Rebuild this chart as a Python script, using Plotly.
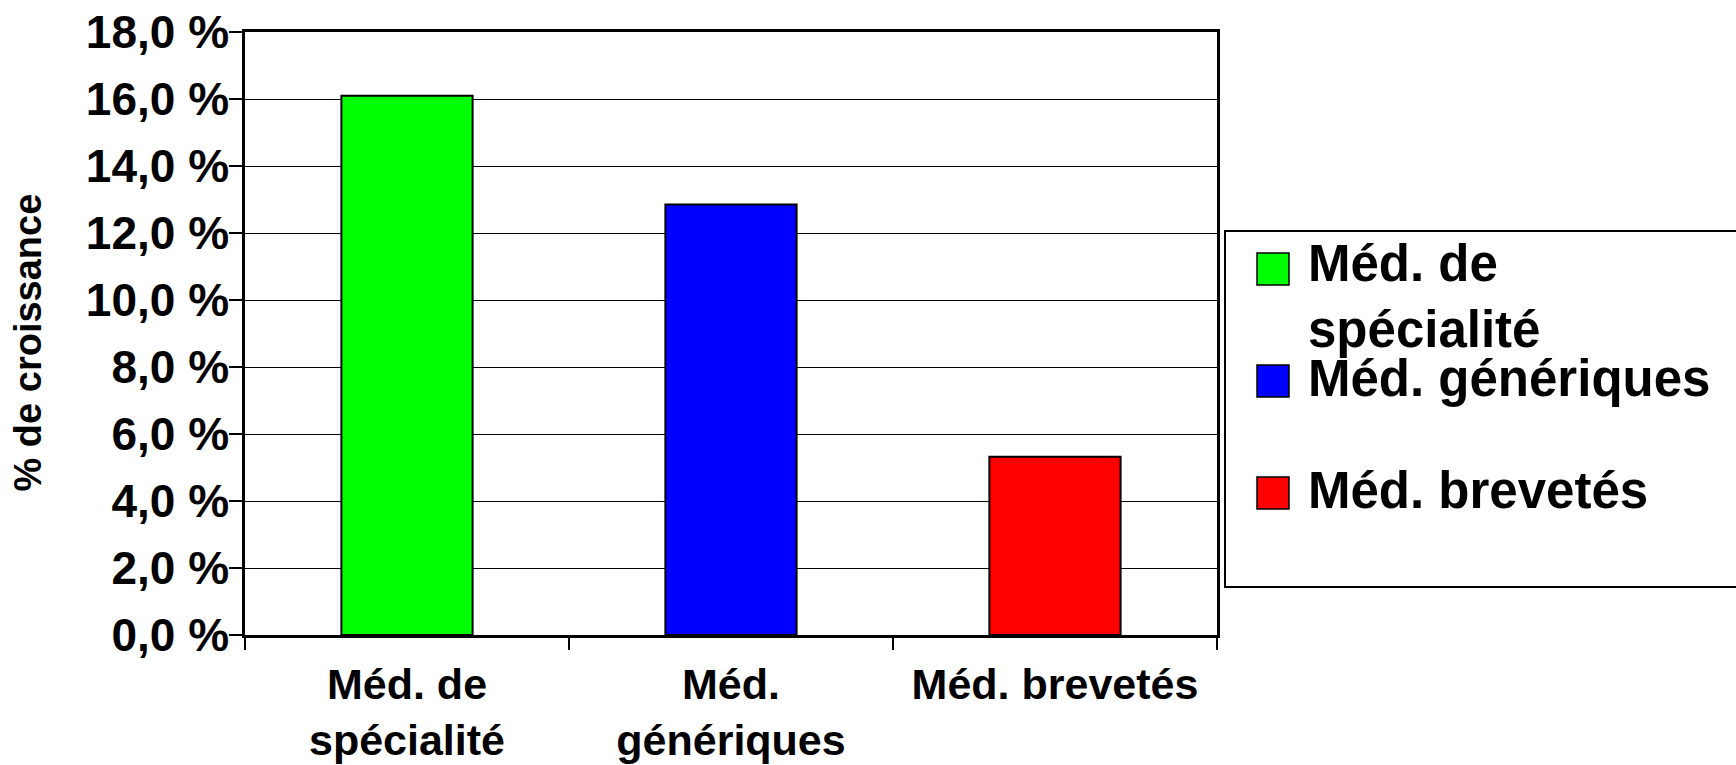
import plotly.graph_objects as go

# ---- data ----
categories = ["Méd. de<br>spécialité", "Méd.<br>génériques", "Méd. brevetés"]
legend_names = ["Méd. de<br>spécialité", "Méd. génériques", "Méd. brevetés"]
growth_pct = [16.1, 12.85, 5.32]
bar_colors = ["#00FF00", "#0000FF", "#FF0000"]
y_tick_vals = [0, 2, 4, 6, 8, 10, 12, 14, 16, 18]
y_tick_text = ["0,0 %", "2,0 %", "4,0 %", "6,0 %", "8,0 %", "10,0 %",
               "12,0 %", "14,0 %", "16,0 %", "18,0 %"]
y_title = "% de croissance"

# ---- layout geometry (pixels) ----
W, H = 1736, 765
L, R, T, B = 245, 1217, 32, 635
PW, PH = R - L, B - T
FONT = "Liberation Sans, Arial, Helvetica, sans-serif"


def px_x(x):
    return (x - L) / PW


def px_y(y):
    return (B - y) / PH


fig = go.Figure()
fig.add_trace(go.Bar(
    x=categories,
    y=growth_pct,
    marker=dict(color=bar_colors, line=dict(color="black", width=2)),
    showlegend=False,
    hoverinfo="x+y",
))

# legend box + entries (drawn from the named arrays)
shapes = [dict(type="rect", xref="paper", yref="paper",
               x0=px_x(1225), x1=px_x(1800), y0=px_y(587), y1=px_y(231),
               line=dict(color="black", width=2), fillcolor="white", layer="below")]
annotations = []
leg_font = 51
first_center, step = 269, 112
for i, (name, col) in enumerate(zip(legend_names, bar_colors)):
    cy = first_center + i * step
    shapes.append(dict(type="rect", xref="paper", yref="paper",
                       x0=px_x(1257), x1=px_x(1289), y0=px_y(cy + 16), y1=px_y(cy - 16),
                       line=dict(color="black", width=1.5), fillcolor=col))
    nlines = name.count("<br>") + 1
    text_center = cy - (3 if nlines > 1 else 0)
    annotations.append(dict(
        xref="paper", yref="paper", x=px_x(1306), y=px_y(text_center - 0.65 * leg_font),
        xanchor="left", yanchor="top", align="left", showarrow=False,
        text=name, font=dict(family=FONT, size=leg_font, color="black", weight="bold"),
    ))

annotations.append(dict(
    xref="paper", yref="paper", x=px_x(27.5), y=px_y(343),
    xanchor="center", yanchor="middle", textangle=-90, showarrow=False,
    text=y_title, font=dict(family=FONT, size=38, color="black", weight="bold"),
))

fig.update_layout(
    width=W, height=H,
    margin=dict(l=L, r=W - R, t=T, b=H - B, autoexpand=False),
    paper_bgcolor="white", plot_bgcolor="white",
    bargap=0.595,
    shapes=shapes,
    annotations=annotations,
    showlegend=False,
    font=dict(family=FONT, color="black"),
)
fig.update_xaxes(
    type="category",
    showline=True, linecolor="black", linewidth=2.5, mirror=True,
    ticks="outside", tickson="boundaries", ticklen=12, tickwidth=1.5, tickcolor="black",
    tickfont=dict(family=FONT, size=43, color="black", weight="bold"),
    ticklabelstandoff=10,
    showgrid=False, automargin=False,
)
fig.update_yaxes(
    range=[0, 18],
    tickvals=y_tick_vals, ticktext=y_tick_text,
    showline=True, linecolor="black", linewidth=2.5, mirror=True,
    ticks="outside", ticklen=13, tickwidth=1.5, tickcolor="black",
    tickfont=dict(family=FONT, size=46, color="black", weight="bold"),
    ticklabelstandoff=-9,
    showgrid=True, gridcolor="black", gridwidth=1.3,
    zeroline=False, automargin=False,
)

fig.write_html(
    "out.html",
    config={"displayModeBar": False},
    post_script="document.body.style.margin='0';document.body.style.overflow='hidden';",
)
